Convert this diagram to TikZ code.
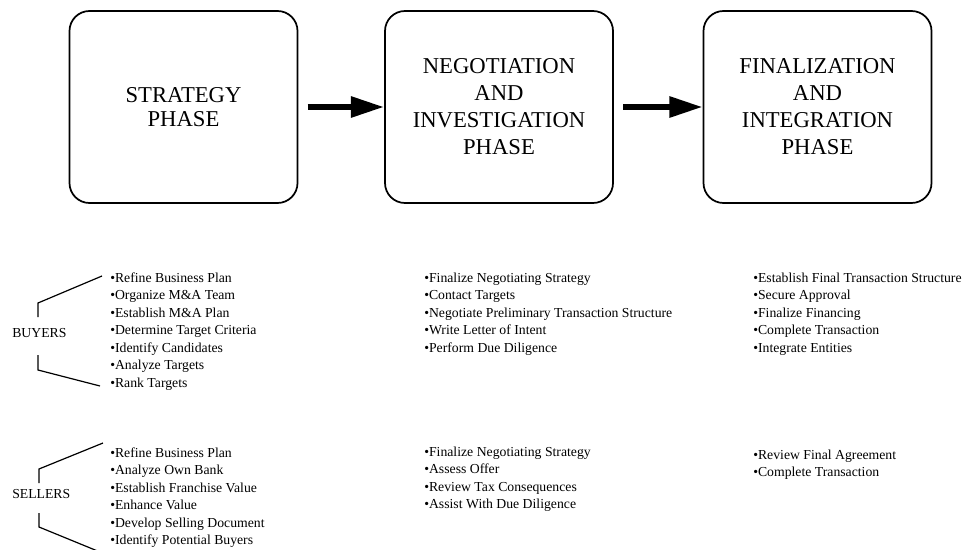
\documentclass[tikz,border=0pt]{standalone}
\usepackage{fontspec}
\setmainfont{Liberation Serif}
\usetikzlibrary{arrows.meta}

\begin{document}
\begin{tikzpicture}[x=0.75pt,y=-0.75pt,
		phase/.style={draw, line width=1.3pt, rounded corners=15pt, minimum width=171pt, minimum height=144pt, align=center, font=\fontsize{17}{20.25}\selectfont},
		item/.style={anchor=base west, inner sep=0pt, font=\fontsize{10.3}{13}\selectfont},
		flow/.style={line width=4.5pt, -{Triangle[length=25pt,width=15pt]}},
		bracket/.style={line width=0.9pt}]
	\useasboundingbox (0,0) rectangle (966,549);
	\node[phase, font=\fontsize{17}{18}\selectfont] (strategy) at (183.5,107) {STRATEGY\\PHASE};
	\node[phase] (negotiation) at (499,107) {NEGOTIATION\\AND\\INVESTIGATION\\PHASE};
	\node[phase] (finalization) at (817.5,107) {FINALIZATION\\AND\\INTEGRATION\\PHASE};
	\draw[flow] ([xshift=7pt]strategy.east) -- (negotiation.west);
	\draw[flow] ([xshift=7pt]negotiation.east) -- (finalization.west);
	\node[item] (buyers) at (12,337) {BUYERS};
	\node[item] (sellers) at (12,498) {SELLERS};
	\foreach \t [count=\i from 0] in {Refine Business Plan, Organize M\&A Team, Establish M\&A Plan, Determine Target Criteria, Identify Candidates, Analyze Targets, Rank Targets}
		\node[item] (buya\i) at (110,282+17.5*\i) {\textbullet\t};
	\foreach \t [count=\i from 0] in {Finalize Negotiating Strategy, Contact Targets, Negotiate Preliminary Transaction Structure, Write Letter of Intent, Perform Due Diligence}
		\node[item] (buyb\i) at (424,282+17.5*\i) {\textbullet\t};
	\foreach \t [count=\i from 0] in {Establish Final Transaction Structure, Secure Approval, Finalize Financing, Complete Transaction, Integrate Entities}
		\node[item] (buyc\i) at (753,282+17.5*\i) {\textbullet\t};
	\foreach \t [count=\i from 0] in {Refine Business Plan, Analyze Own Bank, Establish Franchise Value, Enhance Value, Develop Selling Document, Identify Potential Buyers}
		\node[item] (sella\i) at (110,457+17.5*\i) {\textbullet\t};
	\foreach \t [count=\i from 0] in {Finalize Negotiating Strategy, Assess Offer, Review Tax Consequences, Assist With Due Diligence}
		\node[item] (sellb\i) at (424,456+17.5*\i) {\textbullet\t};
	\foreach \t [count=\i from 0] in {Review Final Agreement, Complete Transaction}
		\node[item] (sellc\i) at (753,459+17.5*\i) {\textbullet\t};
	\draw[bracket] (102,276) -- (38,303) -- (38,317) (38,355) -- (38,370) -- (100,386);
	\draw[bracket] (103,443) -- (39,469) -- (39,483) (39,513) -- (39,527) -- (100,552);
\end{tikzpicture}
\end{document}
